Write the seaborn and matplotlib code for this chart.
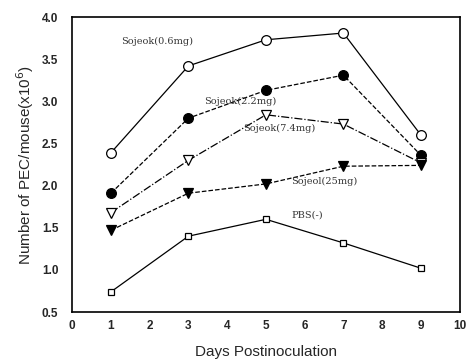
import pandas as pd
import matplotlib
matplotlib.use("Agg")
import matplotlib.pyplot as plt
import seaborn as sns

# days of sampling and PEC counts (x10^6) per group
days = [1, 3, 5, 7, 9]
sojeok06 = [2.39, 3.42, 3.73, 3.81, 2.60]
sojeok22 = [1.91, 2.80, 3.13, 3.31, 2.36]
sojeok74 = [1.68, 2.30, 2.84, 2.73, 2.27]
sojeok25 = [1.47, 1.91, 2.02, 2.23, 2.24]
pbs = [0.74, 1.40, 1.60, 1.32, 1.02]

labels = ["Sojeok(0.6mg)", "Sojeok(2.2mg)", "Sojeok(7.4mg)", "Sojeol(25mg)", "PBS(-)"]
label_x = [1.25, 3.4, 4.4, 5.65, 5.65]
label_y = [3.68, 2.97, 2.65, 2.02, 1.62]

sns.set_style("white")
plt.rcParams["font.family"] = ["Liberation Sans", "DejaVu Sans"]

fig, ax = plt.subplots(figsize=(4.69, 3.62), dpi=100)
fig.subplots_adjust(left=0.154, right=0.98, top=0.953, bottom=0.138)

series = [sojeok06, sojeok22, sojeok74, sojeok25, pbs]
markers = ["o", "o", "v", "v", "s"]
faces = ["white", "black", "white", "black", "white"]
styles = ["-", "--", "-.", "--", "-"]
sizes = [7, 7, 7, 6.5, 5]

for vals, m, fc, ls, ms in zip(series, markers, faces, styles, sizes):
    df = pd.DataFrame({"day": days, "pec": vals})
    sns.lineplot(data=df, x="day", y="pec", ax=ax, color="black", lw=0.9,
                 linestyle=ls, marker=m, markersize=ms, markerfacecolor=fc,
                 markeredgecolor="black", markeredgewidth=0.9)

for t, x, y in zip(labels, label_x, label_y):
    ax.text(x, y, t, fontsize=7, family="DejaVu Serif", color="#333333")

ax.set_xlim(0, 10)
ax.set_ylim(0.5, 4.0)
ax.set_xticks(range(0, 11))
ax.set_yticks([0.5, 1.0, 1.5, 2.0, 2.5, 3.0, 3.5, 4.0])
ax.set_yticklabels(["0.5", "1.0", "1.5", "2.0", "2.5", "3.0", "3.5", "4.0"])
ax.tick_params(labelsize=8.5, length=0)
ax.tick_params(axis="y", pad=10)
ax.tick_params(axis="x", pad=6)
for lab in ax.get_xticklabels() + ax.get_yticklabels():
    lab.set_fontweight("bold")
for sp in ax.spines.values():
    sp.set_color("black")
    sp.set_linewidth(1.2)

ax.set_xlabel("Days Postinoculation", fontsize=11, labelpad=9)
ax.set_ylabel("Number of PEC/mouse(x10$^6$)", fontsize=11, labelpad=4)

fig.savefig("out.png", dpi=100)
